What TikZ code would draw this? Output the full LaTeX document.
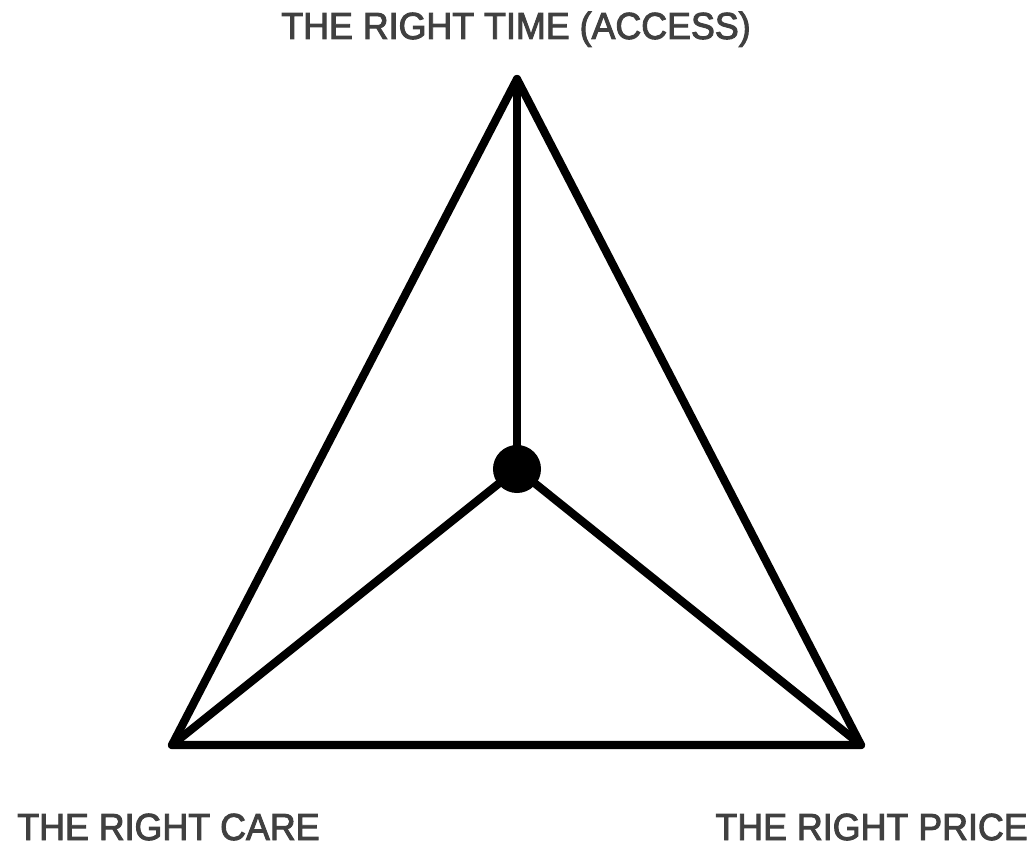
\documentclass[tikz,border=0pt]{standalone}
\usepackage{fontspec}
\usepackage{xcolor}
\usepackage{tikz}
\usetikzlibrary{positioning}
\newfontfamily\lblfont[FakeStretch=0.95, FakeBold=2.5]{Liberation Sans}
\definecolor{lblC}{RGB}{ 64, 64, 64}

\begin{document}
\begin{tikzpicture}[
    x=0.025cm, y=-0.025cm,
    edge/.style={line width=5.8pt, line join=round, line cap=round},
    hubdot/.style={circle, fill=black, inner sep=0pt, minimum size=1.2cm},
    lbl/.style={font=\lblfont\fontsize{26.8}{30}\selectfont, text=lblC, inner sep=0pt}
  ]
  \useasboundingbox (0,0) rectangle (1035,846);
  % corners
  \coordinate (time) at (517,79);
  \coordinate (care) at (172,745);
  \coordinate (price) at (861,745);
  \node[hubdot] (hub) at (517,469) {};

  % triangle and spokes
  \draw[edge] (time) -- (care) -- (price) -- cycle;
  \draw[edge] (hub.center) -- (time);
  \draw[edge] (hub.center) -- (care);
  \draw[edge] (hub.center) -- (price);

  % labels
  \node[lbl, anchor=base] (timeLbl) at (516,39) {THE RIGHT TIME (ACCESS)};
  \node[lbl, anchor=base west] (careLbl) at (17,840) {THE RIGHT CARE};
  \node[lbl, anchor=base east] (priceLbl) at (1028,840) {THE RIGHT PRICE};
\end{tikzpicture}
\end{document}
